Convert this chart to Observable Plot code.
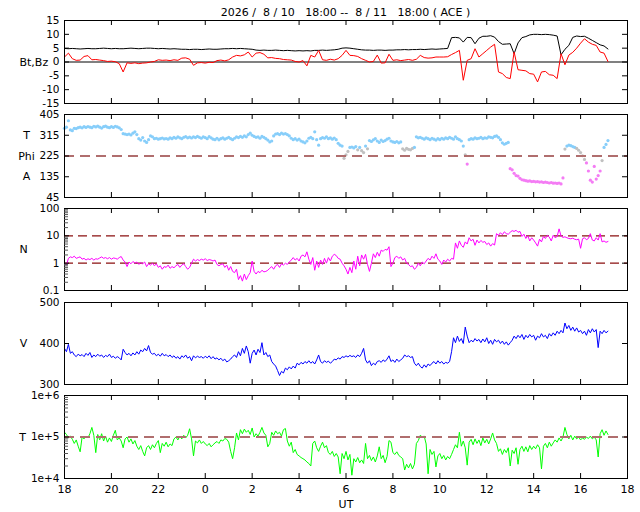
<!DOCTYPE html>
<html><head><meta charset="utf-8">
<script src="https://cdn.jsdelivr.net/npm/d3@7"></script>
<script src="https://cdn.jsdelivr.net/npm/@observablehq/plot@0.6"></script>
<style>
body{margin:0;background:#fff;}
#wrap{position:relative;width:640px;height:512px;overflow:hidden;font-family:"DejaVu Sans",sans-serif;background:#fff;}
#title{position:absolute;top:6px;left:64px;width:563px;text-align:center;font-size:11px;line-height:13px;white-space:pre;color:#000;}
</style></head><body>
<div id="wrap"><div id="title">2026 /  8 / 10   18:00 --  8 / 11   18:00 ( ACE )</div></div>
<script>
// x axis: hours since 2026/8/10 18:00 UT
const xTickHours = [0,2,4,6,8,10,12,14,16,18,20,22,24];
const xTickLabels = ["18","20","22","0","2","4","6","8","10","12","14","16","18"];

// 10-minute magnetic field (nT)
const bt10 = [4.9,4.8,4.9,4.8,4.7,4.8,4.9,4.8,4.8,4.9,5.0,4.9,4.8,4.9,4.8,4.8,4.9,5.0,4.9,4.8,4.9,5.0,5.0,4.9,4.8,4.9,4.8,4.7,4.8,4.7,4.6,
4.6,4.5,4.6,4.6,4.5,4.6,4.7,4.6,4.6,4.7,4.8,4.8,4.9,
4.8,4.9,4.8,4.7,4.6,
4.3,4.2,4.3,4.2,4.2,4.3,4.2,4.1,4.2,4.1,4.0,4.1,
4.0,4.1,4.0,4.2,4.2,4.3,4.2,4.3,4.4,4.6,
5.0,5.1,5.0,4.8,4.6,
4.4,4.3,4.3,4.2,4.3,4.3,4.2,4.3,4.3,4.4,4.4,4.5,4.4,4.5,4.5,4.6,4.5,4.6,4.7,4.6,4.7,4.8,4.9,
8.8,8.9,8.7,7.2,8.9,8.8,6.6,8.6,9.3,9.3,9.5,9.0,7.4,6.4,6.5,6.6,3.0,6.9,8.8,9.2,9.8,10.0,10.0,9.9,10.0,9.9,9.7,9.4,2.6,4.6,6.0,8.9,9.4,9.2,9.3,8.6,7.8,7.0,6.2,5.8,4.7];
const bz10 = [1.8,3.2,1.2,0.6,0.7,2.0,2.3,0.8,0.9,0.7,
0.5,0.2,0.3,0.1,-0.6,-3.6,-0.3,-0.5,-0.3,-0.6,
-0.4,-0.3,0.0,0.2,0.8,0.6,0.7,0.5,0.8,0.6,
1.4,1.5,1.0,-1.2,-0.3,-0.2,-0.4,-0.1,-0.2,0.5,
0.7,0.4,0.8,1.8,2.4,2.2,2.6,3.6,1.8,3.2,
3.4,2.8,1.5,1.6,1.3,1.2,0.9,0.8,0.7,0.2,
0.0,0.5,-1.4,2.4,1.8,4.2,
0.8,0.6,1.0,0.7,1.2,2.4,4.2,2.4,2.3,2.0,
1.2,0.6,0.0,0.2,2.5,-0.4,-0.3,2.8,0.6,0.8,
0.5,0.7,0.9,0.6,1.0,2.4,1.6,1.4,1.5,1.8,
1.8,1.8,1.9,2.7,3.4,4.2,-6.6,0.6,1.2,4.8,
1.8,3.0,4.2,5.4,6.4,-3.6,-4.2,-5.6,-6.0,3.6,
-2.8,-3.0,-3.2,-4.2,-4.4,-7.2,-3.6,-3.4,-4.6,-4.8,
-6.0,3.0,-1.0,2.5,3.5,5.0,6.8,8.4,7.2,6.4,
6.0,3.6,3.2,0.2];

// 5-minute plasma data
const phi5 = [345,350,378,338,335,345,344,348,350,347,
352,349,353,350,348,354,351,355,350,346,
352,355,350,348,352,349,354,351,347,340,
322,320,318,320,316,324,330,318,300,294,
305,290,284,296,312,308,300,302,298,300,
303,299,301,298,304,300,306,302,308,304,
300,306,309,304,307,303,308,305,310,306,
302,308,305,300,309,304,298,296,302,295,
300,304,298,302,306,300,296,302,308,305,
310,306,312,308,318,324,315,310,306,308,
302,310,306,300,294,286,290,312,320,322,
318,324,320,322,318,312,302,296,300,294,
298,290,286,282,290,302,306,300,330,296,
272,300,305,302,308,300,304,298,303,296,
280,272,268,215,230,245,262,264,260,266,
252,262,248,240,268,256,292,288,295,300,
290,284,294,288,292,298,302,290,286,284,
288,282,286,256,250,258,254,252,258,262,
308,304,306,302,298,304,300,296,302,298,
294,300,296,302,298,304,300,306,302,298,
308,300,296,290,268,230,190,296,300,298,
304,300,302,306,300,304,302,308,306,304,
310,312,306,296,282,276,280,284,170,165,
150,140,138,128,122,120,118,116,117,114,
115,113,114,112,113,110,112,110,108,110,
107,108,106,108,104,130,255,268,272,270,
266,262,258,250,240,226,210,195,160,120,
112,180,125,140,160,205,262,275,292];
const n5 = [1.0,0.85,1.5,1.7,1.6,1.8,1.5,1.6,1.7,1.4,
1.5,1.3,1.45,1.35,1.5,1.3,1.45,1.4,1.55,1.7,
1.5,1.6,1.45,1.6,1.4,1.55,1.5,1.4,1.6,1.75,
1.3,1.1,0.75,1.1,0.95,1.15,1.0,1.1,0.9,1.05,
0.95,1.1,0.75,0.95,0.85,1.0,0.8,0.95,0.7,0.8,
0.6,0.75,0.7,0.85,0.65,0.75,0.68,0.8,0.9,0.7,
0.85,0.95,0.75,0.6,0.7,1.0,1.4,1.2,1.35,1.25,
1.4,1.3,1.45,1.25,1.35,1.3,1.2,1.3,0.9,0.8,
0.9,0.95,0.7,0.85,0.55,0.75,0.5,0.45,0.6,0.25,
0.35,0.22,0.4,0.25,0.35,0.45,1.2,0.5,0.4,0.5,
0.45,0.55,0.48,0.5,0.55,0.65,0.75,0.6,0.8,0.9,
0.7,0.95,0.85,1.0,0.9,1.1,1.3,1.6,1.3,1.5,
1.2,1.8,2.0,1.7,2.6,1.4,0.9,1.6,0.55,1.2,
0.7,1.3,0.9,1.5,1.0,1.6,1.2,1.8,2.1,1.9,
1.5,1.4,1.0,0.8,0.6,0.4,0.7,0.45,1.2,0.6,
1.8,0.8,2.0,1.4,2.1,0.9,0.5,1.0,2.2,1.6,
2.5,1.8,3.0,2.7,3.2,3.0,4.0,0.75,1.0,1.6,
1.8,1.5,1.7,1.3,1.5,1.0,0.9,0.75,0.8,0.6,
0.7,1.0,0.8,1.1,0.95,1.2,1.5,1.3,1.8,1.5,
2.2,1.4,1.2,0.9,1.3,1.1,1.4,1.2,1.5,1.4,
5.5,3.5,6.5,4.5,3.8,6.0,5.0,8.5,6.5,7.5,
4.5,7.0,5.5,6.8,5.8,6.2,4.8,5.5,4.2,5.2,
4.6,12,10.5,13,11,14,12,11.5,13.5,15.5,
14.5,16,13.5,14.5,9.5,11.5,8,10,6.5,8.5,
7,5.5,4.2,7.5,6.0,9.5,8.0,10.5,9.0,6.5,
10.5,8.5,9.5,18,9.8,8.8,9.2,8.5,8.0,7.8,
8.2,7.5,7.2,7.6,3.5,7.8,8.5,7.2,8.0,12,
7.0,6.5,8.5,7.0,12,6.0,6.5,5.8,6.2];
const v5 = [388,380,398,376,380,372,368,374,370,373,
368,376,371,378,366,372,368,374,369,372,
366,371,368,374,366,369,364,368,365,360,
386,378,372,376,370,377,372,380,374,384,
380,388,382,395,378,374,376,370,374,369,
376,370,373,368,372,366,370,364,368,362,
370,366,372,364,368,358,370,365,369,366,
368,364,369,365,370,363,368,362,365,360,
364,358,362,355,358,362,368,372,366,380,
370,388,376,394,380,352,376,384,372,386,
378,402,372,378,368,372,356,350,345,334,
322,332,328,340,336,343,338,345,340,352,
348,354,350,356,352,358,352,356,350,360,
372,356,352,358,354,357,352,356,362,360,
365,362,368,366,370,367,371,368,370,366,
372,368,376,388,360,352,358,346,352,348,
356,358,354,360,356,362,370,356,360,354,
362,356,360,364,372,368,370,366,368,352,
346,352,344,340,348,342,350,346,352,356,
350,358,352,356,350,354,352,356,380,414,
402,418,405,412,400,440,418,402,408,404,
412,406,410,402,411,404,414,400,408,398,
410,404,408,400,406,398,404,396,402,408,
418,412,420,414,422,410,420,414,422,416,
420,408,418,414,424,416,420,412,424,418,
426,420,430,424,432,426,450,436,444,432,
440,430,438,428,432,424,430,420,434,426,
436,428,434,390,430,424,432,426,430];
const tp5 = [1.3e5,1.15e5,0.95e5,1.05e5,0.88e5,0.7e5,0.85e5,0.6e5,0.44e5,1.0e5,
0.9e5,1.05e5,0.95e5,1.2e5,1.7e5,1.1e5,0.42e5,1.15e5,0.85e5,1.2e5,
0.8e5,1.05e5,0.75e5,0.95e5,0.78e5,1.1e5,1.45e5,0.85e5,0.95e5,0.8e5,
0.55e5,0.9e5,1.0e5,0.75e5,0.9e5,0.68e5,0.82e5,0.6e5,0.5e5,0.62e5,
0.45e5,0.35e5,0.55e5,0.62e5,0.5e5,0.65e5,0.55e5,0.7e5,0.82e5,0.42e5,
0.7e5,0.6e5,0.75e5,0.58e5,0.68e5,0.62e5,0.9e5,1.0e5,0.85e5,1.05e5,
0.9e5,1.1e5,0.95e5,1.1e5,1.58e5,0.9e5,0.35e5,0.8e5,0.72e5,0.85e5,
0.7e5,0.78e5,0.68e5,0.62e5,0.7e5,0.58e5,0.65e5,0.72e5,0.78e5,0.7e5,
0.85e5,0.8e5,0.92e5,0.88e5,0.75e5,0.45e5,0.3e5,0.55e5,1.25e5,0.85e5,
1.5e5,1.2e5,1.55e5,1.3e5,1.45e5,1.15e5,1.65e5,1.0e5,1.2e5,1.05e5,
1.3e5,1.7e5,1.25e5,1.1e5,0.58e5,0.7e5,1.3e5,1.1e5,1.4e5,1.2e5,
1.3e5,1.05e5,1.5e5,1.6e5,0.8e5,0.6e5,0.75e5,0.42e5,0.5e5,0.38e5,
0.35e5,0.32e5,0.3e5,0.28e5,0.25e5,0.23e5,0.2e5,0.7e5,0.8e5,0.55e5,
0.45e5,0.6e5,0.75e5,0.55e5,0.62e5,0.42e5,0.38e5,0.45e5,0.34e5,0.4e5,
0.33e5,0.13e5,0.4e5,0.3e5,0.45e5,0.28e5,0.38e5,0.12e5,0.3e5,0.25e5,
0.32e5,0.24e5,0.28e5,0.23e5,0.7e5,0.3e5,0.36e5,0.27e5,0.33e5,0.25e5,
0.35e5,0.58e5,0.3e5,0.36e5,0.24e5,0.34e5,0.82e5,0.75e5,0.42e5,0.38e5,
0.44e5,0.36e5,0.33e5,0.3e5,0.16e5,0.22e5,0.18e5,0.23e5,0.17e5,0.22e5,
0.7e5,0.82e5,1.1e5,1.0e5,1.05e5,0.68e5,0.13e5,0.5e5,0.38e5,0.45e5,
0.19e5,0.35e5,0.4e5,0.3e5,0.36e5,0.28e5,0.34e5,0.3e5,0.38e5,0.5e5,
0.65e5,0.55e5,1.3e5,0.6e5,0.8e5,0.55e5,0.21e5,0.75e5,0.88e5,0.65e5,
0.9e5,0.7e5,0.85e5,0.62e5,0.95e5,0.72e5,0.88e5,0.68e5,0.9e5,1.25e5,
0.85e5,0.7e5,0.45e5,0.52e5,0.38e5,0.5e5,0.42e5,0.55e5,0.2e5,0.48e5,
0.4e5,0.55e5,0.22e5,0.5e5,0.6e5,0.45e5,0.58e5,0.44e5,0.62e5,0.5e5,
0.6e5,0.52e5,0.65e5,0.55e5,0.17e5,0.6e5,0.7e5,0.55e5,0.75e5,0.6e5,
0.72e5,0.85e5,0.75e5,0.95e5,0.8e5,1.0e5,1.7e5,1.15e5,0.9e5,1.1e5,
0.85e5,1.05e5,0.9e5,1.0e5,0.85e5,0.95e5,0.88e5,1.0e5,0.92e5,1.05e5,
0.9e5,1.0e5,0.85e5,0.33e5,1.2e5,1.5e5,1.1e5,1.4e5,1.15e5];

// y tick values per panel
const bTicks = [-15,-10,-5,0,5,10,15];
const phiTicks = [45,135,225,315,405];
const nTicks = [0.1,1,10,100];
const vTicks = [300,400,500];
const tTicks = [1e4,1e5,1e6];
const phiSideLabels = [{label:"T", v:315},{label:"Phi", v:225},{label:"A", v:135}];

// tables for the library
const mag = bt10.map((bt, i) => ({t: i / 6, bt, bz: bz10[i]}));
const plasma = phi5.map((phi, j) => ({t: j / 12, phi, n: n5[j], v: v5[j], tp: tp5[j]}));

const wrap = document.getElementById("wrap");
const IW = 563, IH = 83, ML = 64, MR = 13;
const FONT = "DejaVu Sans";

function frameTicks(yTicks, minor, ih) {
  const m = [
    Plot.frame({stroke: "#000"}),
    Plot.tickX(xTickHours, {x: d => d, insetTop: ih - 5, stroke: "#000"}),
    Plot.tickX(xTickHours, {x: d => d, insetBottom: ih - 5, stroke: "#000"}),
    Plot.tickY(yTicks, {y: d => d, insetRight: IW - 5, stroke: "#000"}),
    Plot.tickY(yTicks, {y: d => d, insetLeft: IW - 5, stroke: "#000"})
  ];
  if (minor) m.push(Plot.tickY(minor, {y: d => d, insetRight: IW - 4, stroke: "#555"}));
  return m;
}

function panel({top, ih = IH, y, color, marks, yTicks, fmt, minor, last}) {
  const mt = 10, mb = last ? 34 : 10;
  const extra = [];
  if (last) {
    extra.push(Plot.axisX(xTickHours, {tickSize: 0, tickPadding: 7, label: null, fontSize: 11, tickFormat: d => xTickLabels[xTickHours.indexOf(d)]}));
    extra.push(Plot.text(["UT"], {frameAnchor: "bottom", dy: 29, fontSize: 11}));
  }
  const p = Plot.plot({
    width: 640, height: mt + ih + mb,
    marginLeft: ML, marginRight: MR, marginTop: mt, marginBottom: mb,
    style: {background: "none", overflow: "visible", fontFamily: FONT, fontSize: "10.5px", color: "#000"},
    x: {domain: [0, 24], axis: null, label: null},
    y: {...y, axis: null, label: null},
    color,
    marks: [
      ...marks,
      ...frameTicks(yTicks, minor, ih),
      Plot.axisY(yTicks, {tickSize: 0, tickPadding: 5, label: null, tickFormat: fmt}),
      ...extra
    ]
  });
  p.style.position = "absolute";
  p.style.left = "0px";
  p.style.top = (top - mt) + "px";
  wrap.appendChild(p);
}

const minorOf = (domain) => d3.scaleLog().domain(domain).ticks().filter(d => Math.abs(Math.log10(d) - Math.round(Math.log10(d))) > 1e-9);

// Panel 1: Bt, Bz
panel({
  top: 20, y: {domain: [-15, 15]}, yTicks: bTicks, fmt: d => String(d),
  marks: [
    Plot.ruleY([0], {stroke: "#808080", strokeWidth: 2}),
    Plot.line(mag, {x: "t", y: "bt", stroke: "#000", strokeWidth: 1}),
    Plot.line(mag, {x: "t", y: "bz", stroke: "#ff0000", strokeWidth: 1}),
    Plot.text(["Bt,Bz"], {frameAnchor: "left", dx: -45, textAnchor: "start", fontSize: 11})
  ]
});

// Panel 2: Phi
panel({
  top: 114, y: {domain: [45, 405]}, yTicks: phiTicks, fmt: d => String(d),
  color: {type: "threshold", domain: [200, 260], range: ["#f47cf4", "#c0c0c0", "#87cefa"]},
  marks: [
    Plot.dot(plasma, {x: "t", y: "phi", r: 1.6, fill: "phi", stroke: null}),
    Plot.ruleY([225], {stroke: "#b06e6e", strokeWidth: 2, strokeDasharray: "10,6"}),
    Plot.text(phiSideLabels, {y: "v", text: "label", frameAnchor: "left", dx: -38, textAnchor: "middle", fontSize: 11})
  ]
});

// Panel 3: N
panel({
  top: 208, ih: 82, y: {type: "log", domain: [0.1, 100]}, yTicks: nTicks, fmt: d => String(d),
  minor: minorOf([0.1, 100]),
  marks: [
    Plot.ruleY([1, 10], {stroke: "#8b1010", strokeWidth: 1.2, strokeDasharray: "9,5"}),
    Plot.line(plasma, {x: "t", y: "n", stroke: "#ff00ff", strokeWidth: 1}),
    Plot.text(["N"], {frameAnchor: "left", dx: -41, textAnchor: "middle", fontSize: 11})
  ]
});

// Panel 4: V
panel({
  top: 302, ih: 82, y: {domain: [300, 500]}, yTicks: vTicks, fmt: d => String(d),
  marks: [
    Plot.line(plasma, {x: "t", y: "v", stroke: "#0000ff", strokeWidth: 1}),
    Plot.text(["V"], {frameAnchor: "left", dx: -41, textAnchor: "middle", fontSize: 11})
  ]
});

// Panel 5: T
panel({
  top: 395, y: {type: "log", domain: [1e4, 1e6]}, yTicks: tTicks, fmt: d => "1e+" + Math.round(Math.log10(d)),
  minor: minorOf([1e4, 1e6]), last: true,
  marks: [
    Plot.line(plasma, {x: "t", y: "tp", stroke: "#00ff00", strokeWidth: 1}),
    Plot.ruleY([1e5], {stroke: "#b06e6e", strokeWidth: 2, strokeDasharray: "10,6"}),
    Plot.text(["T"], {frameAnchor: "left", dx: -42, textAnchor: "middle", fontSize: 11})
  ]
});
</script>
</body></html>
